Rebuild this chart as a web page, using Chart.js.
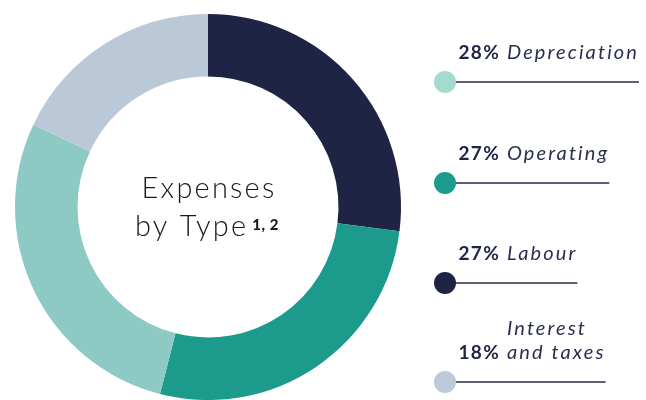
<!DOCTYPE html>
<html>
<head>
<meta charset="utf-8">
<script src="https://cdn.jsdelivr.net/npm/chart.js@4"></script>
<style>
  html, body { margin: 0; padding: 0; background: #ffffff; }
  #wrap { width: 646px; height: 400px; position: relative; }
</style>
</head>
<body>
<div id="wrap"><canvas id="myChart"></canvas></div>
<script>
// ring order, clockwise from 12 o'clock
var labels = ['Labour', 'Operating', 'Depreciation', 'Interest and taxes'];
var values = [27, 27, 28, 18];
var colors = ['#1f2445', '#1c9a8b', '#8ccac3', '#bac8d8'];
var dotColors = ['#1f2445', '#1c9a8b', '#a4dad0', '#bdc9da'];
// legend order (indexes into the arrays above) and its text lines
var legendOrder = [2, 1, 0, 3];
var legendLines = [['Labour'], ['Operating'], ['Depreciation'], ['Interest', 'and taxes']];
var centerTitle = ['Expenses', 'by Type'];
var footnote = '1, 2';

const sideLegend = {
    id: 'sideLegend',
    afterDraw(chart) {
        const ctx = chart.ctx;
        const ring = chart.getDatasetMeta(0).data[0];
        const cx = ring.x, cy = ring.y;
        ctx.save();

        // title in the hole
        ctx.fillStyle = '#1a1a1a';
        ctx.textAlign = 'center';
        ctx.textBaseline = 'alphabetic';
        ctx.font = '300 29px Lato';
        ctx.letterSpacing = '2.2px';
        ctx.fillText(centerTitle[0], cx + 1, cy - 9);
        let w = ctx.measureText(centerTitle[1]).width;
        ctx.textAlign = 'left';
        const bx = cx - 73;
        ctx.fillText(centerTitle[1], bx, cy + 29);
        ctx.font = '900 15px Lato';
        ctx.letterSpacing = '0.5px';
        ctx.fillText(footnote, bx + w + 4, cy + 23);

        // legend on the right
        const total = values.reduce((a, b) => a + b, 0);
        const dotX = 445, pctRight = 500, textX = 507;
        const rowY = [82, 183, 283, 382];
        for (let k = 0; k < legendOrder.length; k++) {
            const i = legendOrder[k];
            const lines = legendLines[i];
            const y = rowY[k];
            const pct = Math.round(values[i] / total * 100) + '%';

            ctx.font = 'italic 20px Lato';
            ctx.letterSpacing = '2.1px';
            ctx.fillStyle = '#2a2f4f';
            ctx.textAlign = 'left';
            let endX = textX;
            for (let j = 0; j < lines.length; j++) {
                const by = y - 23 - (lines.length - 1 - j) * 24;
                ctx.fillText(lines[j], textX, by);
                endX = Math.max(endX, textX + ctx.measureText(lines[j]).width);
            }
            ctx.font = 'bold 19px Lato';
            ctx.letterSpacing = '1.3px';
            ctx.fillStyle = '#1f2445';
            ctx.textAlign = 'right';
            ctx.fillText(pct, pctRight, y - 23);

            ctx.strokeStyle = '#2a2d45';
            ctx.lineWidth = 1.5;
            ctx.beginPath();
            ctx.moveTo(dotX, y);
            ctx.lineTo(endX, y);
            ctx.stroke();

            ctx.fillStyle = dotColors[i];
            ctx.beginPath();
            ctx.arc(dotX, y, 11, 0, Math.PI * 2);
            ctx.fill();
        }
        ctx.restore();
    }
};

const ctx = document.getElementById('myChart').getContext('2d');
var myChart = new Chart(ctx, {
    type: 'doughnut',
    data: {
        labels: labels,
        datasets: [{
            data: values,
            backgroundColor: colors,
            borderWidth: 0
        }]
    },
    options: {
        responsive: true,
        maintainAspectRatio: false,
        animation: false,
        cutout: '67.6%',
        layout: { padding: { left: 13.5, right: 243.5, top: 14, bottom: -3 } },
        plugins: {
            legend: { display: false },
            tooltip: { enabled: false }
        }
    },
    plugins: [sideLegend]
});
</script>
</body>
</html>
